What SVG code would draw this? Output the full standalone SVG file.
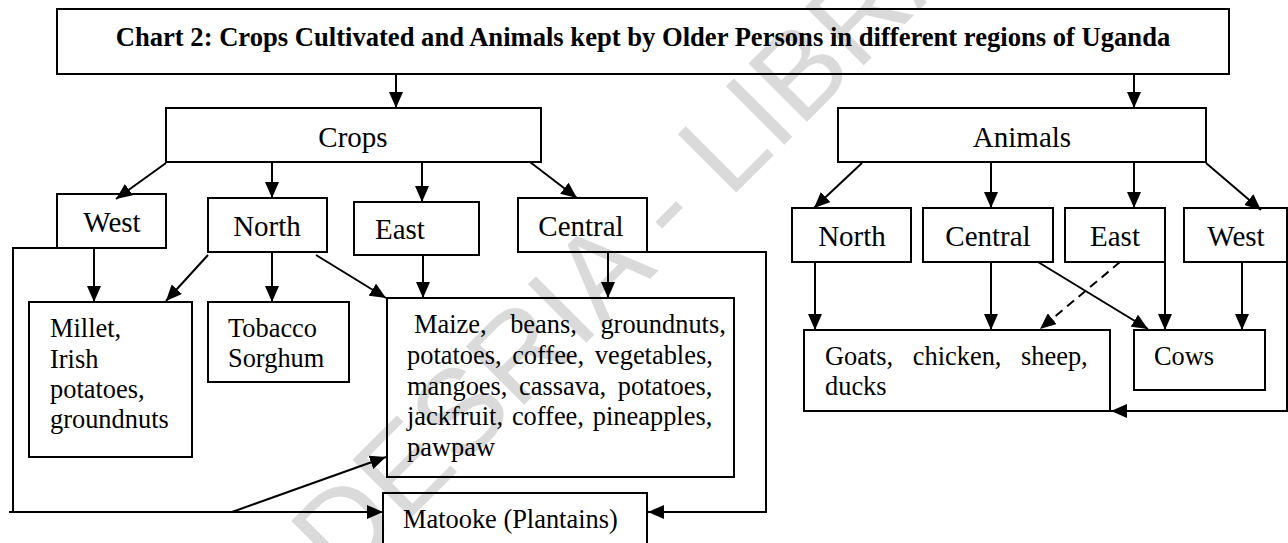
<svg xmlns="http://www.w3.org/2000/svg" width="1288" height="543" viewBox="0 0 1288 543">
<style>
.bx{fill:none;stroke:#000;stroke-width:2}
.ln{fill:none;stroke:#000;stroke-width:2}
.ar{marker-end:url(#ah)}
.lbl{font-family:"Liberation Serif","Times New Roman",serif;font-size:29px;fill:#000}
.txt{font-family:"Liberation Serif","Times New Roman",serif;font-size:26.4px;fill:#000}
.ttl{font-family:"Liberation Serif","Times New Roman",serif;font-size:26.6px;font-weight:bold;fill:#000}
.wm{font-family:"Liberation Sans",Arial,sans-serif;font-size:120px;fill:#dadada}
</style>
<defs>
<marker id="ah" markerUnits="userSpaceOnUse" markerWidth="16" markerHeight="14" refX="16" refY="7" orient="auto">
<path d="M0,0 L16,7 L0,14 z" fill="#000"/>
</marker>
</defs>
<rect x="0" y="0" width="1288" height="543" fill="#fff"/>
<g id="watermark" transform="translate(675,203) rotate(-45)">
<text class="wm" x="-686" y="36">CODESRIA - LIBRARY</text>
</g>
<g id="connectors">
<line class="ln ar" x1="396" y1="74" x2="396" y2="108"/>
<line class="ln ar" x1="1134" y1="74" x2="1134" y2="108"/>
<line class="ln ar" x1="166" y1="163" x2="116" y2="199"/>
<line class="ln ar" x1="272" y1="162" x2="272" y2="198"/>
<line class="ln ar" x1="422" y1="162" x2="422" y2="202"/>
<line class="ln ar" x1="530" y1="162" x2="577" y2="198"/>
<line class="ln ar" x1="94" y1="248" x2="94" y2="302"/>
<line class="ln ar" x1="208" y1="255" x2="166" y2="301"/>
<line class="ln ar" x1="272" y1="252" x2="272" y2="302"/>
<line class="ln ar" x1="316" y1="255" x2="386" y2="298"/>
<line class="ln ar" x1="423" y1="255" x2="423" y2="298"/>
<line class="ln ar" x1="608" y1="252" x2="608" y2="298"/>
<polyline class="ln" points="57,248 13,248 13,512"/>
<line class="ln ar" x1="9" y1="512" x2="383" y2="512"/>
<line class="ln ar" x1="232" y1="512" x2="386" y2="457"/>
<polyline class="ln ar" points="647,252 766,252 766,512 648,512"/>
<line class="ln ar" x1="862" y1="163" x2="814" y2="208"/>
<line class="ln ar" x1="991" y1="162" x2="991" y2="208"/>
<line class="ln ar" x1="1134" y1="162" x2="1134" y2="208"/>
<line class="ln ar" x1="1206" y1="163" x2="1261" y2="210"/>
<line class="ln ar" x1="815" y1="262" x2="815" y2="330"/>
<line class="ln ar" x1="991" y1="262" x2="991" y2="330"/>
<line class="ln ar" x1="1120" y1="262" x2="1040" y2="329" stroke-dasharray="9,6"/>
<line class="ln ar" x1="1038" y1="262" x2="1148" y2="329"/>
<line class="ln ar" x1="1165" y1="262" x2="1165" y2="330"/>
<line class="ln ar" x1="1242" y1="262" x2="1242" y2="330"/>
<polyline class="ln ar" points="1287,262 1287,411 1111,411"/>
</g>
<g id="title"><rect class="bx" x="57" y="9" width="1172" height="65"/><text class="ttl" x="643" y="46" text-anchor="middle">Chart 2: Crops Cultivated and Animals kept by Older Persons in different regions of Uganda</text></g>
<g id="crops"><rect class="bx" x="166" y="108" width="375" height="54"/><text class="lbl" x="353" y="147" text-anchor="middle">Crops</text></g>
<g id="animals"><rect class="bx" x="838" y="108" width="368" height="54"/><text class="lbl" x="1022" y="147" text-anchor="middle">Animals</text></g>
<g id="c-west"><rect class="bx" x="57" y="194" width="109" height="54"/><text class="lbl" x="112" y="232" text-anchor="middle">West</text></g>
<g id="c-north"><rect class="bx" x="208" y="198" width="119" height="54"/><text class="lbl" x="267" y="236" text-anchor="middle">North</text></g>
<g id="c-east"><rect class="bx" x="354" y="202" width="125" height="53"/><text class="lbl" x="375" y="239">East</text></g>
<g id="c-central"><rect class="bx" x="518" y="198" width="129" height="54"/><text class="lbl" x="581" y="236" text-anchor="middle">Central</text></g>
<g id="millet"><rect class="bx" x="29" y="302" width="163" height="155"/>
<text class="txt" x="50" y="337">Millet,</text><text class="txt" x="50" y="368">Irish</text><text class="txt" x="50" y="398">potatoes,</text><text class="txt" x="50" y="428">groundnuts</text></g>
<g id="tobacco"><rect class="bx" x="208" y="302" width="141" height="80"/>
<text class="txt" x="228" y="337">Tobacco</text><text class="txt" x="228" y="367">Sorghum</text></g>
<g id="maize"><rect class="bx" x="387" y="298" width="347" height="179"/>
<text class="txt" x="414" y="333" word-spacing="17">Maize, beans, groundnuts,</text>
<text class="txt" x="407" y="364" word-spacing="4">potatoes, coffee, vegetables,</text>
<text class="txt" x="407" y="394.5" word-spacing="5">mangoes, cassava, potatoes,</text>
<text class="txt" x="407" y="425" word-spacing="2.3">jackfruit, coffee, pineapples,</text>
<text class="txt" x="407" y="456">pawpaw</text></g>
<g id="matooke"><rect class="bx" x="383" y="493" width="264" height="60"/><text class="txt" x="403" y="528">Matooke (Plantains)</text></g>
<g id="a-north"><rect class="bx" x="792" y="208" width="119" height="54"/><text class="lbl" x="852" y="246" text-anchor="middle">North</text></g>
<g id="a-central"><rect class="bx" x="923" y="208" width="130" height="54"/><text class="lbl" x="988" y="246" text-anchor="middle">Central</text></g>
<g id="a-east"><rect class="bx" x="1065" y="208" width="100" height="54"/><text class="lbl" x="1115" y="246" text-anchor="middle">East</text></g>
<g id="a-west"><rect class="bx" x="1184" y="208" width="103" height="54"/><text class="lbl" x="1236" y="246" text-anchor="middle">West</text></g>
<g id="goats"><rect class="bx" x="804" y="330" width="306" height="81"/>
<text class="txt" x="825" y="365" word-spacing="13">Goats, chicken, sheep,</text><text class="txt" x="825" y="395">ducks</text></g>
<g id="cows"><rect class="bx" x="1134" y="330" width="131" height="60"/><text class="txt" x="1154" y="365">Cows</text></g>
</svg>
